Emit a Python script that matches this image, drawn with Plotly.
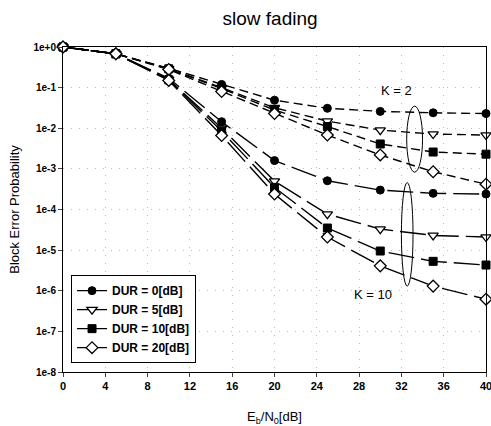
import math
import plotly.graph_objects as go

# ---- data ----
ebn0 = [0, 5, 10, 15, 20, 25, 30, 35, 40]

dur_labels = ["DUR = 0[dB]", "DUR = 5[dB]", "DUR = 10[dB]", "DUR = 20[dB]"]

k2_dur0 = [1.0, 0.68, 0.30, 0.12, 0.049, 0.031, 0.026, 0.024, 0.023]
k2_dur5 = [1.0, 0.68, 0.29, 0.10, 0.032, 0.015, 0.009, 0.0072, 0.0068]
k2_dur10 = [1.0, 0.68, 0.29, 0.095, 0.028, 0.011, 0.0041, 0.0026, 0.0023]
k2_dur20 = [1.0, 0.68, 0.28, 0.080, 0.023, 0.0068, 0.0022, 0.00085, 0.00042]

k10_dur0 = [1.0, 0.68, 0.17, 0.0145, 0.0016, 5.1e-4, 3.0e-4, 2.5e-4, 2.4e-4]
k10_dur5 = [1.0, 0.68, 0.16, 0.010, 5.0e-4, 7.7e-5, 3.3e-5, 2.3e-5, 2.1e-5]
k10_dur10 = [1.0, 0.68, 0.155, 0.0085, 3.5e-4, 3.5e-5, 9.5e-6, 5.3e-6, 4.3e-6]
k10_dur20 = [1.0, 0.68, 0.15, 0.0066, 2.4e-4, 2.1e-5, 4.1e-6, 1.3e-6, 6.2e-7]

x_ticks = [0, 4, 8, 12, 16, 20, 24, 28, 32, 36, 40]
y_tickvals = [1e0, 1e-1, 1e-2, 1e-3, 1e-4, 1e-5, 1e-6, 1e-7, 1e-8]
y_ticktext = ["1e+0", "1e-1", "1e-2", "1e-3", "1e-4", "1e-5", "1e-6", "1e-7", "1e-8"]

# ---- styles ----
FONT = "Liberation Sans, Arial, sans-serif"
markers = [
    dict(symbol="circle", color="black", size=8, line=dict(color="black", width=1)),
    dict(symbol="triangle-down", color="white", size=9, line=dict(color="black", width=1.3)),
    dict(symbol="square", color="black", size=8, line=dict(color="black", width=1)),
    dict(symbol="diamond", color="white", size=9, line=dict(color="black", width=1.3)),
]
K2_DASH = "9px,5px"
K10_DASH = "26px,7px"
GRID_DASH = "1px,7px"

fig = go.Figure()

k2_series = [k2_dur0, k2_dur5, k2_dur10, k2_dur20]
k10_series = [k10_dur0, k10_dur5, k10_dur10, k10_dur20]

for vals, mk in zip(k2_series, markers):
    fig.add_trace(go.Scatter(x=ebn0, y=vals, mode="lines+markers",
                             line=dict(color="black", width=1.4, dash=K2_DASH),
                             marker=mk, showlegend=False, cliponaxis=False))
for vals, mk in zip(k10_series, markers):
    fig.add_trace(go.Scatter(x=ebn0, y=vals, mode="lines+markers",
                             line=dict(color="black", width=1.4, dash=K10_DASH),
                             marker=mk, showlegend=False, cliponaxis=False))
for name, mk in zip(dur_labels, markers):
    fig.add_trace(go.Scatter(x=[None], y=[None], mode="lines+markers", name=name,
                             line=dict(color="black", width=1.4), marker=mk))

# ellipses grouping the two families
fig.add_shape(type="circle", xref="x", yref="y", x0=32.5, x1=34.0, y0=0.035, y1=8.3e-4,
              line=dict(color="black", width=1))
fig.add_shape(type="circle", xref="x", yref="y", x0=32.0, x1=33.1, y0=4.6e-4, y1=1.3e-6,
              line=dict(color="black", width=1))

fig.add_annotation(x=31.5, y=math.log10(0.086), text="K = 2", showarrow=False,
                   font=dict(family=FONT, size=13, color="black"))
fig.add_annotation(x=29.3, y=math.log10(8.3e-7), text="K = 10", showarrow=False,
                   font=dict(family=FONT, size=13, color="black"))

fig.update_layout(
    width=491, height=426,
    margin=dict(l=63, r=5, t=47, b=54),
    paper_bgcolor="white", plot_bgcolor="white",
    font=dict(family=FONT, color="black"),
    title=dict(text="slow fading", x=0.55, xanchor="center", y=1 - 18 / 426,
               yanchor="middle", yref="container",
               font=dict(family=FONT, size=19, color="black")),
    legend=dict(x=0.019, y=0.298, xanchor="left", yanchor="top",
                bgcolor="white", bordercolor="black", borderwidth=1,
                font=dict(family=FONT, size=12, color="black", weight="bold"),
                tracegroupgap=0, itemwidth=30),
    showlegend=True,
)
fig.update_xaxes(range=[0, 40], tickvals=x_ticks, ticks="outside", ticklen=4,
                 showline=True, linecolor="black", linewidth=1, mirror=True,
                 showgrid=True, gridcolor="#bdbdbd", griddash=GRID_DASH, gridwidth=1,
                 zeroline=False, automargin=False, ticklabeloverflow="allow",
                 tickfont=dict(family=FONT, size=11, color="black", weight="bold"),
                 title=dict(text="E<sub>b</sub>/N<sub>0</sub>[dB]", standoff=20,
                            font=dict(family=FONT, size=13, color="black")))
fig.update_yaxes(type="log", range=[-8, 0], tickvals=y_tickvals, ticktext=y_ticktext,
                 ticks="outside", ticklen=4,
                 showline=True, linecolor="black", linewidth=1, mirror=True,
                 showgrid=True, gridcolor="#bdbdbd", griddash=GRID_DASH, gridwidth=1,
                 zeroline=False, automargin=False, ticklabeloverflow="allow",
                 tickfont=dict(family=FONT, size=10, color="black", weight="bold"),
                 title=dict(text="Block Error Probability", standoff=10,
                            font=dict(family=FONT, size=13, color="black")))

fig.write_html("out.html", config={"displayModeBar": False},
               post_script="document.body.style.margin='0';document.body.style.overflow='hidden';")
